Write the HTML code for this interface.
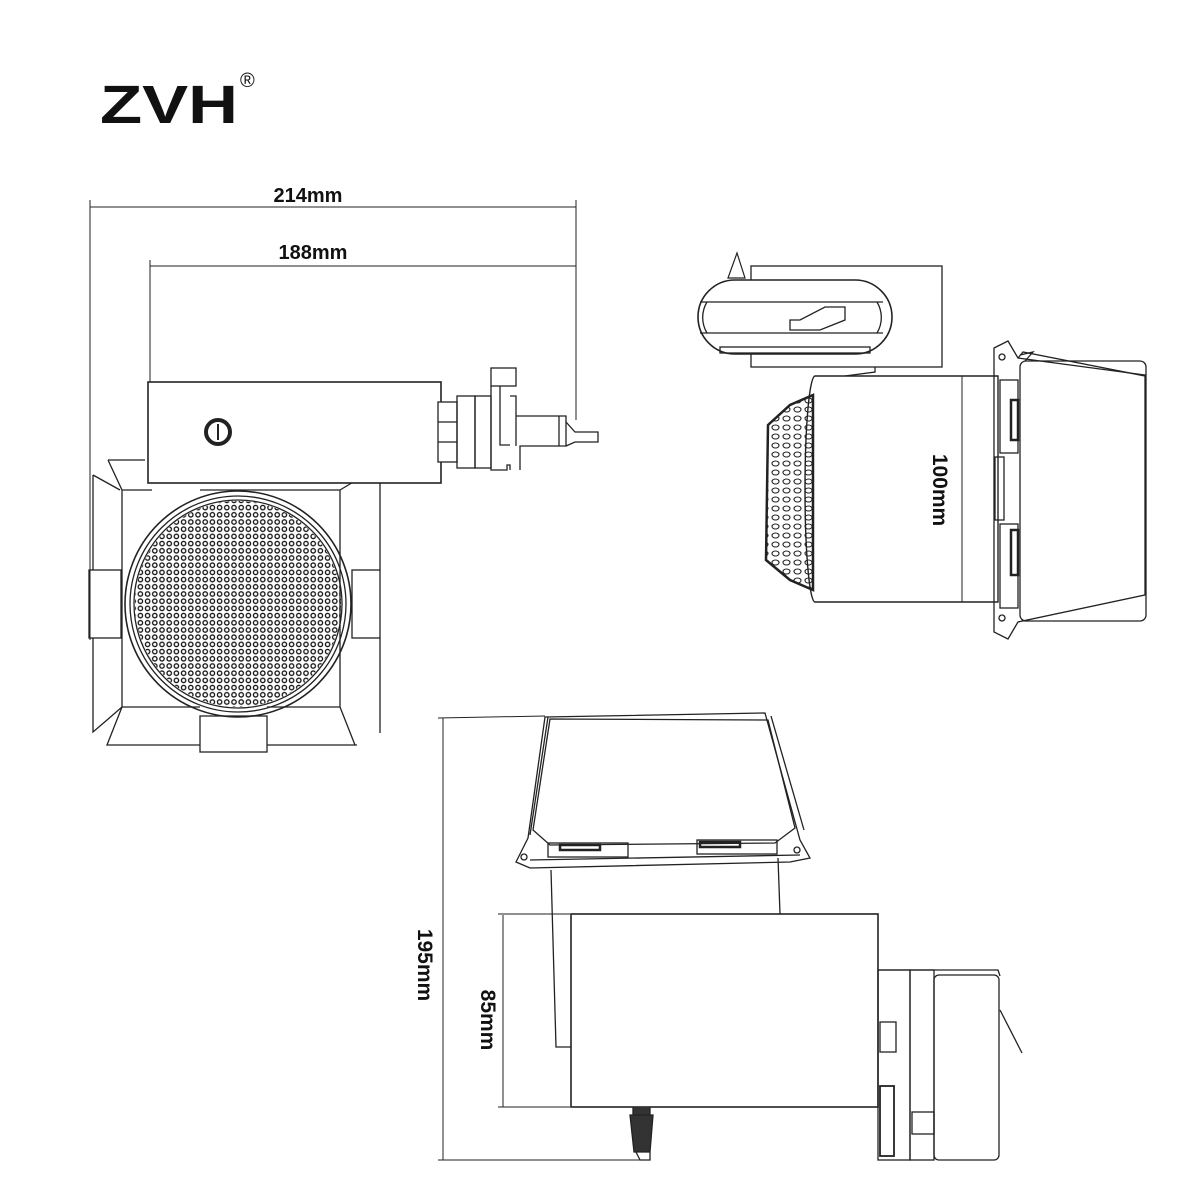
<!DOCTYPE html>
<html><head><meta charset="utf-8"><style>
html,body{margin:0;padding:0;background:#fff;}
svg{display:block;}
text{font-family:"Liberation Sans",sans-serif;font-weight:bold;fill:#111;}
</style></head><body>
<svg width="1200" height="1200" viewBox="0 0 1200 1200" xmlns="http://www.w3.org/2000/svg">
<defs>
<pattern id="dots" x="0" y="0" width="7.2" height="7.2" patternUnits="userSpaceOnUse">
<circle cx="3.6" cy="3.6" r="2.2" fill="none" stroke="#111" stroke-width="1.3"/>
</pattern>
<pattern id="ovals" x="0" y="0" width="11" height="9" patternUnits="userSpaceOnUse">
<ellipse cx="5.5" cy="4.5" rx="3.5" ry="2.5" fill="none" stroke="#222" stroke-width="1.1"/>
</pattern>
<clipPath id="cc"><circle cx="238" cy="604" r="103"/></clipPath>
</defs>
<g fill="none" stroke="#222" stroke-width="1.3">

<line x1="90" y1="207" x2="576" y2="207" stroke-width="1"/>
<line x1="90" y1="200" x2="90" y2="640" stroke-width="1"/>
<line x1="576" y1="200" x2="576" y2="420" stroke-width="1"/>
<line x1="150" y1="266" x2="576" y2="266" stroke-width="1"/>
<line x1="150" y1="260" x2="150" y2="382" stroke-width="1"/>
<path d="M108 460 L145 460 M108 460 L122 490 L152 490 M93 475 L93 570 M93 638 L93 732 L107 720 L122 707 L122 490 M93 475 L120 490"/>
<path d="M122 707 L200 707 M267 707 L340 707 L340 490 L200 490 M340 490 L365 475 M380 482 L380 570 M380 638 L380 733 M340 707 L355 745 M122 707 L107 745 L200 745 M267 745 L357 745"/>
<rect x="89" y="570" width="32" height="68"/>
<rect x="352" y="570" width="28" height="68"/>
<rect x="200" y="716" width="67" height="36"/>
<circle cx="238" cy="604" r="113" stroke-width="1.6"/>
<circle cx="238" cy="604" r="108"/>
<circle cx="238" cy="604" r="104"/>
<rect x="130" y="496" width="216" height="216" fill="url(#dots)" stroke="none" clip-path="url(#cc)"/>
<rect x="148" y="382" width="293" height="101" fill="#fff" stroke-width="1.6"/>
<circle cx="218" cy="432" r="12" stroke-width="4"/>
<line x1="218" y1="424" x2="218" y2="440" stroke-width="2"/>
<rect x="438" y="402" width="19" height="60" fill="#fff"/>
<line x1="438" y1="422" x2="457" y2="422"/><line x1="438" y1="442" x2="457" y2="442"/>
<rect x="457" y="396" width="18" height="72"/>
<rect x="475" y="396" width="16" height="72"/>
<rect x="491" y="368" width="25" height="18"/>
<path d="M491 386 L491 470 L507 470 L507 465 L510 465 L510 470 M500 386 L500 445 L510 445"/>
<path d="M510 396 L516 396 L516 416 L566 416 L566 446 L520 446 L520 470 M516 416 L516 446"/>
<path d="M559 416 L559 446 M566 422 L575 432 L598 432 L598 442 L575 442 L566 446"/>

<rect x="751" y="266" width="191" height="101"/>
<path d="M728 278 L737 253 L745 278 Z" stroke-width="1.2"/>
<path d="M735 280 L855 280 A37 37 0 0 1 855 354 L735 354 A37 37 0 0 1 735 280 Z" fill="#fff" stroke-width="1.6"/>
<line x1="700" y1="302" x2="883" y2="302"/><line x1="700" y1="333" x2="883" y2="333"/>
<path d="M707 302 A30 30 0 0 0 707 333 M877 302 A30 30 0 0 1 877 333"/>
<rect x="720" y="347" width="150" height="6"/>
<path d="M790 320 L800 320 L825 307 L845 307 L845 320 L820 330 L790 330 Z"/>
<path d="M815 376 L998 376 L998 602 L815 602 A10 113 0 0 1 815 376 Z" stroke-width="1.4"/>
<path d="M845 376 L875 372 L875 367"/>
<path d="M813 395 L790 405 L768 425 L766 560 L790 580 L813 590 Z" fill="url(#ovals)" stroke-width="2.5"/>
<line x1="962" y1="376" x2="962" y2="602" stroke-width="1"/>
<path d="M994 348 L1008 341 L1018 358 L1145 375 L1145 595 L1018 622 L1008 639 L994 632 Z"/>
<path d="M1018 358 L1023 352 L1145 376"/>
<path d="M1020 355 L1033 352 L1025 361"/>
<rect x="1020" y="361" width="126" height="260" rx="6"/>
<rect x="1000" y="380" width="18" height="73"/>
<rect x="1000" y="524" width="18" height="84"/>
<rect x="1011" y="400" width="7" height="40" stroke-width="2.5"/>
<rect x="1011" y="530" width="7" height="45" stroke-width="2.5"/>
<rect x="995" y="457" width="9" height="63"/>
<circle cx="1002" cy="357" r="3"/><circle cx="1002" cy="618" r="3"/>

<line x1="443" y1="718" x2="443" y2="1160" stroke-width="1"/>
<line x1="438" y1="718" x2="545" y2="716" stroke-width="1"/>
<line x1="438" y1="1160" x2="650" y2="1160" stroke-width="1"/>
<line x1="503" y1="915" x2="503" y2="1107" stroke-width="1"/>
<line x1="498" y1="914" x2="570" y2="914" stroke-width="1"/>
<line x1="498" y1="1107" x2="570" y2="1107" stroke-width="1"/>
<path d="M545 717 L765 713 L800 840 L810 858 L790 862 L530 868 L516 862 L528 838 Z"/>
<path d="M550 719 L533 830 L550 845 L775 843 L795 828 L768 720 Z"/>
<path d="M548 717 L530 835 M771 716 L804 830"/>
<rect x="548" y="843" width="80" height="14"/>
<rect x="697" y="840" width="80" height="14"/>
<rect x="560" y="845" width="40" height="5" stroke-width="2.5"/>
<rect x="700" y="842" width="40" height="5" stroke-width="2.5"/>
<line x1="530" y1="860" x2="800" y2="855"/>
<circle cx="524" cy="857" r="3"/><circle cx="797" cy="850" r="3"/>
<path d="M551 870 L556 1047 L571 1047 M778 858 L780 914"/>
<rect x="571" y="914" width="307" height="193" stroke-width="1.6"/>
<path d="M633 1107 L633 1115 L650 1115 L650 1107 M630 1115 L653 1115 L650 1152 L634 1152 Z" fill="#333"/>
<path d="M636 1152 L640 1160 L650 1160 L650 1152"/>
<rect x="878" y="970" width="32" height="190"/>
<rect x="910" y="970" width="24" height="190"/>
<rect x="934" y="975" width="65" height="185" rx="5"/>
<path d="M878 970 L998 970 L1000 976"/>
<rect x="880" y="1022" width="16" height="30"/>
<rect x="880" y="1086" width="14" height="70" stroke-width="1.8"/>
<rect x="912" y="1112" width="22" height="22"/>
<line x1="1000" y1="1010" x2="1022" y2="1053"/>
</g>

<text x="100" y="123" font-size="54" textLength="138" lengthAdjust="spacingAndGlyphs" style="font-weight:900">ZVH</text>
<text x="240" y="87" font-size="20" style="font-weight:normal">®</text>
<text x="308" y="202" font-size="20" text-anchor="middle">214mm</text>
<text x="313" y="259" font-size="20" text-anchor="middle">188mm</text>
<text transform="translate(933,490) rotate(90)" font-size="21" text-anchor="middle">100mm</text>
<text transform="translate(418,965) rotate(90)" font-size="21" text-anchor="middle">195mm</text>
<text transform="translate(481,1020) rotate(90)" font-size="21" text-anchor="middle">85mm</text>
</svg>
</body></html>
